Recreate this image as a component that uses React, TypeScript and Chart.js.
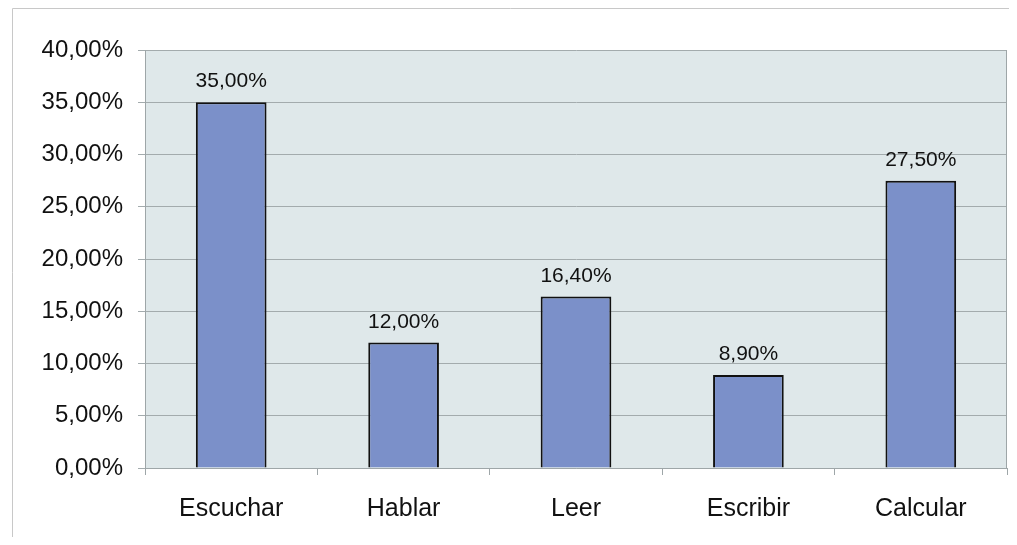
import React, { useEffect, useRef } from "react";
import { Chart, registerables } from "chart.js";

Chart.register(...registerables);

const categories = ["Escuchar", "Hablar", "Leer", "Escribir", "Calcular"];
const values = [35.0, 12.0, 16.4, 8.9, 27.5];
const yMax = 40;
const yStep = 5;

const fmt = (v: number) => v.toFixed(2).replace(".", ",") + "%";

const FONT = "'Liberation Sans', Arial, sans-serif";

const bgPlugin = {
  id: "bgPlugin",
  beforeDraw(chart: any) {
    const { ctx, chartArea } = chart;
    ctx.save();
    ctx.fillStyle = "#dfe8ea";
    ctx.fillRect(chartArea.left, chartArea.top, chartArea.right - chartArea.left, chartArea.bottom - chartArea.top);
    // outer frame lines
    ctx.strokeStyle = "#c8c8c8";
    ctx.lineWidth = 1;
    ctx.beginPath();
    ctx.moveTo(4.5, 0.5);
    ctx.lineTo(chart.width, 0.5);
    ctx.moveTo(4.5, 0.5);
    ctx.lineTo(4.5, chart.height);
    ctx.stroke();
    ctx.restore();
  },
  afterDatasetsDraw(chart: any) {
    const { ctx, chartArea } = chart;
    ctx.save();
    ctx.strokeStyle = "#9ea6a8";
    ctx.lineWidth = 1;
    ctx.beginPath();
    ctx.moveTo(chartArea.right - 0.5, chartArea.top);
    ctx.lineTo(chartArea.right - 0.5, chartArea.bottom);
    ctx.stroke();
    const meta = chart.getDatasetMeta(0);
    ctx.fillStyle = "#111";
    ctx.font = `21px ${FONT}`;
    ctx.textAlign = "center";
    ctx.textBaseline = "alphabetic";
    meta.data.forEach((bar: any, i: number) => {
      ctx.fillText(fmt(values[i]), bar.x, bar.y - 15);
    });
    ctx.restore();
  },
};

export default function App() {
  const ref = useRef<HTMLCanvasElement>(null);
  useEffect(() => {
    if (!ref.current) return;
    const chart = new Chart(ref.current, {
      type: "bar",
      data: {
        labels: categories,
        datasets: [
          {
            data: values,
            backgroundColor: "#7b90c9",
            borderColor: "#111",
            borderWidth: 2,
            barPercentage: 0.41,
            categoryPercentage: 1,
          },
        ],
      },
      options: {
        responsive: false,
        animation: false,
        layout: { padding: { top: 42, right: 2, left: 0, bottom: 0 } },
        plugins: { legend: { display: false }, tooltip: { enabled: false }, title: { display: false } },
        scales: {
          x: {
            offset: true,
            grid: {
              offset: true,
              drawOnChartArea: false,
              drawTicks: true,
              tickLength: 7,
              color: "#9ea6a8",
            },
            border: { display: true, color: "#9ea6a8" },
            ticks: {
              color: "#111",
              font: { family: FONT, size: 25 },
              padding: 19,
              maxRotation: 0,
            },
            afterFit(scale: any) {
              scale.height = 69;
            },
          },
          y: {
            min: 0,
            max: yMax,
            grid: { color: "#a3abad", tickLength: 7 },
            border: { display: true, color: "#9ea6a8" },
            ticks: {
              stepSize: yStep,
              color: "#111",
              font: { family: FONT, size: 24 },
              padding: 15,
              callback: (v: any) => fmt(Number(v)),
            },
            afterFit(scale: any) {
              scale.width = 137;
            },
          },
        },
      },
      plugins: [bgPlugin],
    });
    return () => chart.destroy();
  }, []);
  return (
    <div style={{ width: 1001, height: 529 }}>
      <canvas ref={ref} width={1001} height={529} style={{ display: "block" }} />
    </div>
  );
}
